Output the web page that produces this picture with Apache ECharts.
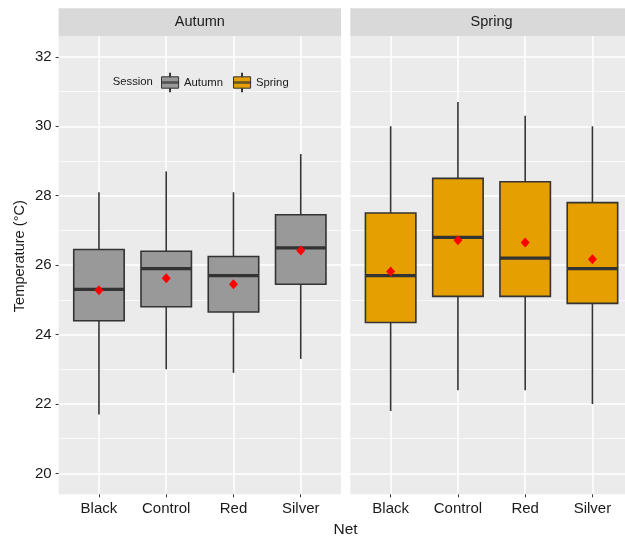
<!DOCTYPE html>
<html>
<head>
<meta charset="utf-8">
<script src="https://cdn.jsdelivr.net/npm/echarts@6/dist/echarts.min.js"></script>
<style>
  html, body { margin: 0; padding: 0; background: #ffffff; overflow: hidden; }
  #chart { width: 636px; height: 536px; }
</style>
</head>
<body>
<div id="chart"></div>
<script>
// ---- data ----
const categories = ['Black', 'Control', 'Red', 'Silver'];
const sessions = ['Autumn', 'Spring'];

const autumnLow    = [21.7, 23.0, 22.9, 23.3];
const autumnQ1     = [24.4, 24.8, 24.65, 25.45];
const autumnMedian = [25.3, 25.9, 25.7, 26.5];
const autumnQ3     = [26.45, 26.4, 26.25, 27.45];
const autumnHigh   = [28.1, 28.7, 28.1, 29.2];
const autumnMean   = [25.28, 25.62, 25.45, 26.42];

const springLow    = [21.8, 22.4, 22.4, 22.0];
const springQ1     = [24.35, 25.1, 25.1, 24.9];
const springMedian = [25.7, 26.8, 26.2, 25.9];
const springQ3     = [27.5, 28.5, 28.4, 27.8];
const springHigh   = [30.0, 30.7, 30.3, 30.0];
const springMean   = [25.82, 26.72, 26.65, 26.17];

const yTicks = [20, 22, 24, 26, 28, 30, 32];
const yMinorTicks = [21, 23, 25, 27, 29, 31];

// ---- styles ----
const FONT = "'Liberation Sans', Arial, sans-serif";
const TEXT = '#1a1a1a';
const LINE = '#333333';
const FILL = { Autumn: '#999999', Spring: '#E69F00' };
const xPositions = categories.map((c, i) => i + 1);

function boxData(low, q1, med, q3, high) {
  return xPositions.map((x, i) => [x, low[i], q1[i], med[i], q3[i], high[i]]);
}
function meanData(mean) {
  return xPositions.map((x, i) => [x, mean[i]]);
}

function makeRender(fill) {
  return function (params, api) {
    const x = api.value(0);
    const lo = api.coord([x, api.value(1)]);
    const q1 = api.coord([x, api.value(2)]);
    const md = api.coord([x, api.value(3)]);
    const q3 = api.coord([x, api.value(4)]);
    const hi = api.coord([x, api.value(5)]);
    const w = api.size([0.75, 0])[0];
    const cx = md[0];
    return {
      type: 'group',
      children: [
        { type: 'line', shape: { x1: cx, y1: hi[1], x2: cx, y2: q3[1] }, style: { stroke: LINE, lineWidth: 1.6 } },
        { type: 'line', shape: { x1: cx, y1: lo[1], x2: cx, y2: q1[1] }, style: { stroke: LINE, lineWidth: 1.6 } },
        { type: 'rect', shape: { x: cx - w / 2, y: q3[1], width: w, height: q1[1] - q3[1] }, style: { fill: fill, stroke: LINE, lineWidth: 1.6 } },
        { type: 'line', shape: { x1: cx - w / 2, y1: md[1], x2: cx + w / 2, y2: md[1] }, style: { stroke: LINE, lineWidth: 3.3 } }
      ]
    };
  };
}

function xAxisFor(gridIndex) {
  return {
    type: 'value', gridIndex: gridIndex, min: 0.4, max: 4.6,
    axisLine: { show: false },
    axisTick: { show: true, customValues: xPositions, length: 3, lineStyle: { color: LINE, width: 1 } },
    axisLabel: { customValues: xPositions, formatter: v => categories[Math.round(v) - 1] || '', color: TEXT, fontSize: 15, fontFamily: FONT, margin: 7 },
    splitLine: { show: true, lineStyle: { color: '#ffffff', width: 1.5 } }
  };
}
function yMajorFor(gridIndex, showLabels) {
  return {
    type: 'value', gridIndex: gridIndex, min: 19.4, max: 32.6,
    axisLine: { show: false },
    axisTick: { show: showLabels, customValues: yTicks, length: 3, lineStyle: { color: LINE, width: 1 } },
    axisLabel: { show: showLabels, customValues: yTicks, color: TEXT, fontSize: 15, fontFamily: FONT, margin: 7 },
    splitLine: { show: true, lineStyle: { color: '#ffffff', width: 1.5 } },
    name: showLabels ? 'Temperature (°C)' : '',
    nameLocation: 'middle', nameGap: 31,
    nameTextStyle: { color: TEXT, fontSize: 14.6, fontFamily: FONT, padding: [0, 0, 0, 18] }
  };
}
function yMinorFor(gridIndex) {
  return {
    type: 'value', gridIndex: gridIndex, min: 19.4, max: 32.6, position: 'left',
    axisLine: { show: false },
    axisTick: { show: false, customValues: yMinorTicks },
    axisLabel: { show: false, customValues: yMinorTicks },
    splitLine: { show: true, lineStyle: { color: '#ffffff', width: 0.7 } }
  };
}

const legendIcon = 'path://M0,4 L18,4 L18,16 L0,16 Z M8.5,0 L9.5,0 L9.5,4 L8.5,4 Z M8.5,16 L9.5,16 L9.5,20 L8.5,20 Z M0,9.4 L18,9.4 L18,10.6 L0,10.6 Z';

const chart = echarts.init(document.getElementById('chart'), null, { renderer: 'canvas' });
chart.setOption({
  animation: false,
  backgroundColor: '#ffffff',
  textStyle: { fontFamily: FONT },
  grid: [
    { left: 58.6, top: 36, width: 282.5, height: 458.3, show: true, backgroundColor: '#EBEBEB', borderWidth: 0 },
    { left: 350.3, top: 36, width: 282.5, height: 458.3, show: true, backgroundColor: '#EBEBEB', borderWidth: 0 }
  ],
  xAxis: [xAxisFor(0), xAxisFor(1)],
  yAxis: [yMajorFor(0, true), yMinorFor(0), yMajorFor(1, false), yMinorFor(1)],
  legend: {
    data: sessions,
    left: 161, top: 72.5, padding: 0,
    itemWidth: 18, itemHeight: 19, itemGap: 10,
    icon: legendIcon,
    itemStyle: { borderColor: LINE, borderWidth: 1 },
    textStyle: { color: TEXT, fontSize: 11.3, fontFamily: FONT },
    selectedMode: false
  },
  graphic: [
    { type: 'rect', left: 58.6, top: 8.3, shape: { width: 282.5, height: 27.7 }, style: { fill: '#D9D9D9' }, silent: true },
    { type: 'rect', left: 350.3, top: 8.3, shape: { width: 282.5, height: 27.7 }, style: { fill: '#D9D9D9' }, silent: true },
    { type: 'text', x: 58.6 + 282.5 / 2, y: 22.2, style: { text: sessions[0], fill: TEXT, font: '14.5px ' + FONT, textAlign: 'center', textVerticalAlign: 'middle' }, silent: true },
    { type: 'text', x: 350.3 + 282.5 / 2, y: 22.2, style: { text: sessions[1], fill: TEXT, font: '14.5px ' + FONT, textAlign: 'center', textVerticalAlign: 'middle' }, silent: true },
    { type: 'text', x: 112.7, y: 82, style: { text: 'Session', fill: TEXT, font: '11.3px ' + FONT, textAlign: 'left', textVerticalAlign: 'middle' }, silent: true },
    { type: 'text', x: 345.5, y: 530, style: { text: 'Net', fill: TEXT, font: '15.5px ' + FONT, textAlign: 'center', textVerticalAlign: 'middle' }, silent: true }
  ],
  series: [
    {
      name: 'Autumn', type: 'custom', xAxisIndex: 0, yAxisIndex: 0,
      itemStyle: { color: FILL.Autumn, borderColor: LINE },
      encode: { x: 0, y: [1, 2, 3, 4, 5] },
      renderItem: makeRender(FILL.Autumn),
      data: boxData(autumnLow, autumnQ1, autumnMedian, autumnQ3, autumnHigh),
      z: 2
    },
    {
      name: 'Spring', type: 'custom', xAxisIndex: 1, yAxisIndex: 2,
      itemStyle: { color: FILL.Spring, borderColor: LINE },
      encode: { x: 0, y: [1, 2, 3, 4, 5] },
      renderItem: makeRender(FILL.Spring),
      data: boxData(springLow, springQ1, springMedian, springQ3, springHigh),
      z: 2
    },
    {
      name: 'Autumn mean', type: 'scatter', xAxisIndex: 0, yAxisIndex: 0,
      symbol: 'diamond', symbolSize: [9, 10],
      itemStyle: { color: '#FF0000', opacity: 1 },
      data: meanData(autumnMean), z: 5
    },
    {
      name: 'Spring mean', type: 'scatter', xAxisIndex: 1, yAxisIndex: 2,
      symbol: 'diamond', symbolSize: [9, 10],
      itemStyle: { color: '#FF0000', opacity: 1 },
      data: meanData(springMean), z: 5
    }
  ]
});
</script>
</body>
</html>
